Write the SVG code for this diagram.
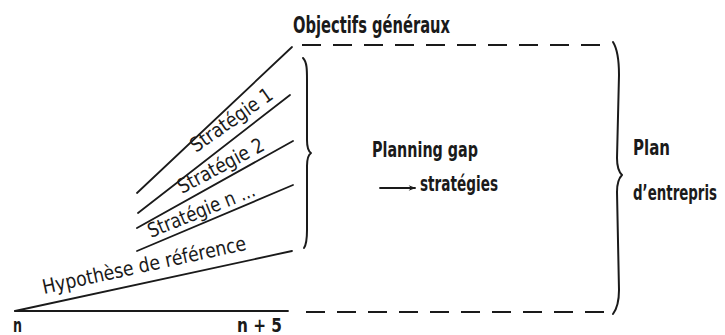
<svg xmlns="http://www.w3.org/2000/svg" width="725" height="335" viewBox="0 0 725 335">
<defs>
<style>
.t{font-family:'Liberation Sans Narrow','DejaVu Sans Condensed','DejaVu Sans',sans-serif;fill:#1a1a1a;font-weight:bold}
.r{font-family:'Liberation Sans Narrow','DejaVu Sans Condensed','DejaVu Sans',sans-serif;fill:#1a1a1a;font-size:20px}
.ln{stroke:#1a1a1a;stroke-width:1.8;fill:none;stroke-linecap:round}
.da{stroke:#1a1a1a;stroke-width:2.2;fill:none;stroke-dasharray:19 12}
.br{stroke:#1a1a1a;stroke-width:2;fill:none;stroke-linecap:round;stroke-linejoin:round}
</style>
<marker id="ah" viewBox="0 0 10 10" refX="9" refY="5" markerWidth="8" markerHeight="7" orient="auto" markerUnits="userSpaceOnUse">
<path d="M0,1 L10,5 L0,9 L3,5 Z" fill="#1a1a1a"/>
</marker>
</defs>
<rect width="725" height="335" fill="#ffffff"/>
<g id="connectors">
<line class="ln" x1="15" y1="311" x2="288" y2="311"/>
<line class="ln" x1="15" y1="311" x2="292" y2="251"/>
<line class="ln" x1="137" y1="251" x2="293" y2="185"/>
<line class="ln" x1="137" y1="228" x2="293" y2="141"/>
<line class="ln" x1="138" y1="213" x2="290" y2="95"/>
<line class="ln" x1="137" y1="193" x2="292" y2="47"/>
<line class="da" x1="302" y1="45" x2="604" y2="45"/>
<line class="da" x1="306" y1="312" x2="604" y2="312"/>
<path class="br" d="M303,58 C307,62 307,70 307,80 L307,140 C307,147 308,151 311,153 C308,155 307,159 307,166 L307,230 C307,240 306,245 304,248"/>
<path class="br" d="M613,42 C618,50 619,60 619,75 L617,158 C617,166 619,172 622,175 C619,178 617,184 617,192 L619,290 C619,302 616,310 613,314"/>
<line class="ln" x1="380" y1="188" x2="415" y2="188" marker-end="url(#ah)"/>
</g>
<g id="objectifs"><text class="t" x="293" y="33" font-size="23" textLength="157" lengthAdjust="spacingAndGlyphs">Objectifs généraux</text></g>
<g id="strategie1"><text class="r" transform="translate(196,153) rotate(-35)" textLength="96" lengthAdjust="spacingAndGlyphs">Stratégie 1</text></g>
<g id="strategie2"><text class="r" transform="translate(182,194) rotate(-28)" textLength="95" lengthAdjust="spacingAndGlyphs">Stratégie 2</text></g>
<g id="strategien"><text class="r" transform="translate(151,238) rotate(-22)" textLength="114" lengthAdjust="spacingAndGlyphs">Stratégie n ...</text></g>
<g id="hypothese"><text class="r" font-size="21" transform="translate(44,294) rotate(-12.3)" textLength="208" lengthAdjust="spacingAndGlyphs">Hypothèse de référence</text></g>
<g id="planninggap">
<text class="t" x="372" y="157" font-size="22" textLength="106" lengthAdjust="spacingAndGlyphs">Planning gap</text>
<text class="t" x="420" y="191" font-size="22" textLength="78" lengthAdjust="spacingAndGlyphs">stratégies</text>
</g>
<g id="plan">
<text class="t" x="633" y="155" font-size="22" textLength="37" lengthAdjust="spacingAndGlyphs">Plan</text>
<text class="t" x="633" y="200" font-size="22" textLength="84" lengthAdjust="spacingAndGlyphs">d’entrepris</text>
</g>
<g id="axis">
<text class="t" x="13" y="332" font-size="19" textLength="9" lengthAdjust="spacingAndGlyphs">n</text>
<text class="t" x="237" y="332" font-size="19" textLength="45" lengthAdjust="spacingAndGlyphs">n + 5</text>
</g>
</svg>
